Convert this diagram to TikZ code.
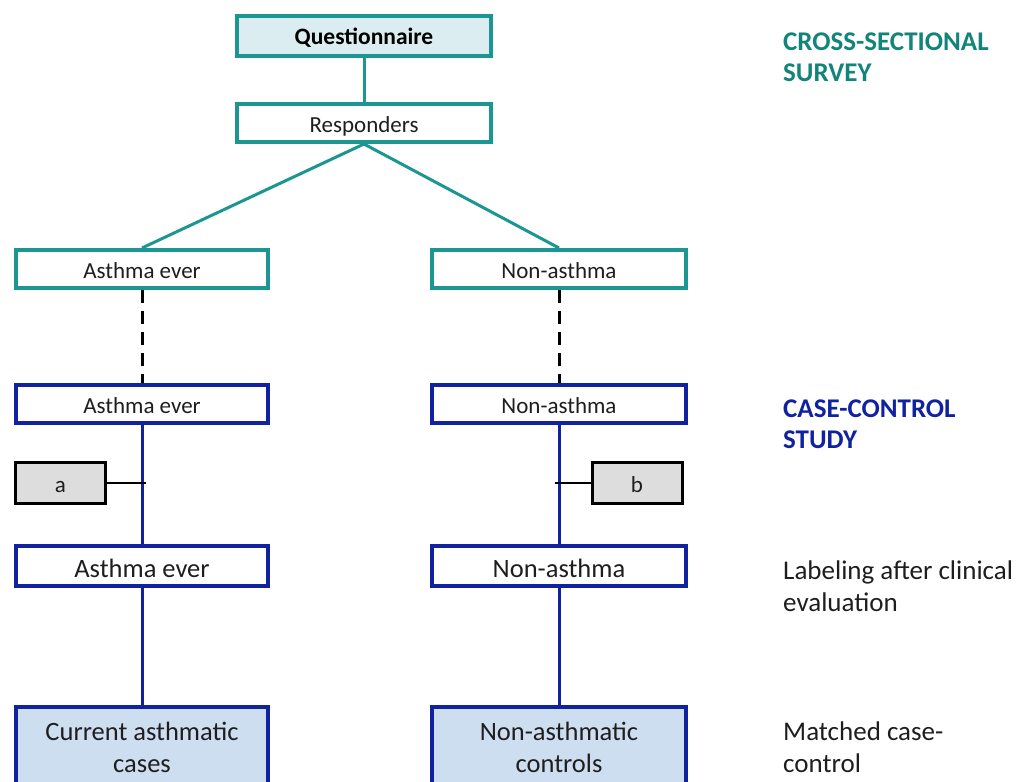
\documentclass[tikz,border=0pt]{standalone}
\usepackage{fontspec}
\setmainfont{Carlito}
\definecolor{tealline}{RGB}{28,150,146}
\definecolor{tealtext}{RGB}{18,132,122}
\definecolor{tealfill}{RGB}{220,237,241}
\definecolor{darkblue}{RGB}{16,34,160}
\definecolor{bluefill}{RGB}{206,222,241}
\definecolor{greyfill}{RGB}{221,221,221}
\definecolor{inkgrey}{RGB}{30,30,30}
\tikzset{
	box/.style={draw, line width=4pt, minimum width=252pt, minimum height=38pt, inner sep=0pt, fill=white, text=inkgrey, text height=18pt, text depth=0pt, font=\fontsize{23}{27}\selectfont},
	tealbox/.style={box, draw=tealline},
	bluebox/.style={box, draw=darkblue},
	bigbox/.style={bluebox, minimum height=40pt, text height=23pt, font=\fontsize{26.5}{32}\selectfont},
	twoline/.style={bigbox, fill=bluefill, minimum height=80pt, align=center, text height=, text depth=},
	greybox/.style={draw=black, line width=3pt, fill=greyfill, minimum width=90pt, minimum height=41pt, inner sep=0pt, text=inkgrey, text height=19pt, text depth=0pt, font=\fontsize{23}{27}\selectfont},
	tealwire/.style={draw=tealline, line width=3pt},
	bluewire/.style={draw=darkblue, line width=3pt},
	sidelabel/.style={anchor=west, align=left, inner sep=0pt, text=inkgrey, font=\fontsize{27}{31.5}\selectfont}
}
\begin{document}
\begin{tikzpicture}[x=1pt, y=-1pt]
			%%%%% FRAME %%%%%
			\useasboundingbox (0, 0) rectangle (1019, 781);
			\clip (0, 0) rectangle (1019, 781);
			
			%%%%% CROSS-SECTIONAL PART %%%%%
			\node[tealbox, fill=tealfill, minimum width=254pt, minimum height=40pt, font=\fontsize{23.5}{27}\selectfont\bfseries, text=black] (quest) at (364, 36) {Questionnaire};
			\node[tealbox, minimum width=254pt] (resp) at (364, 123) {Responders};
			\node[tealbox] (asthA) at (142, 269) {Asthma ever};
			\node[tealbox, minimum width=254pt] (nonA) at (559, 269) {Non-asthma};
			
			\draw[tealwire] (quest.south) -- (resp.north);
			\draw[tealwire] (resp.south) -- (asthA.north);
			\draw[tealwire] (resp.south) -- (nonA.north);
			
			%%%%% CASE-CONTROL PART %%%%%
			\node[bluebox] (asthB) at (142, 404) {Asthma ever};
			\node[bluebox, minimum width=254pt] (nonB) at (559, 404) {Non-asthma};
			\draw[line width=3pt, dash pattern=on 13pt off 8pt] (asthA.south) -- (asthB.north);
			\draw[line width=3pt, dash pattern=on 13pt off 8pt] (nonA.south) -- (nonB.north);
			
			\node[bigbox] (asthC) at (142, 566) {Asthma ever};
			\node[bigbox, minimum width=254pt] (nonC) at (559, 566) {Non-asthma};
			
			\node[twoline] (cases) at (142, 747) {Current asthmatic\\cases};
			\node[twoline, minimum width=254pt] (controls) at (559, 747) {Non-asthmatic\\controls};
			
			\draw[bluewire] (asthB.south) -- (asthC.north);
			\draw[bluewire] (asthC.south) -- (cases.north);
			\draw[bluewire] (nonB.south) -- (nonC.north);
			\draw[bluewire] (nonC.south) -- (controls.north);
			
			% exclusion boxes
			\node[greybox] (exA) at (60.5, 483) {a};
			\node[greybox] (exB) at (637, 483) {b};
			\coordinate (tapA) at (146, 483);
			\coordinate (tapB) at (555, 483);
			\draw[line width=2.5pt] (exA.east) -- (tapA);
			\draw[line width=2.5pt] (tapB) -- (exB.west);
			
			%%%%% SIDE LABELS %%%%%
			\node[sidelabel, text=tealtext, font=\fontsize{27}{31}\selectfont\bfseries] (lblCross) at (783, 57) {CROSS-SECTIONAL\\SURVEY};
			\node[sidelabel, text=darkblue, font=\fontsize{27}{31}\selectfont\bfseries] (lblCase) at (783, 424) {CASE-CONTROL\\STUDY};
			\node[sidelabel] (lblLabel) at (783, 586) {Labeling after clinical\\evaluation};
			\node[sidelabel] (lblMatch) at (783, 747) {Matched case-\\control};
		\end{tikzpicture}
\end{document}
